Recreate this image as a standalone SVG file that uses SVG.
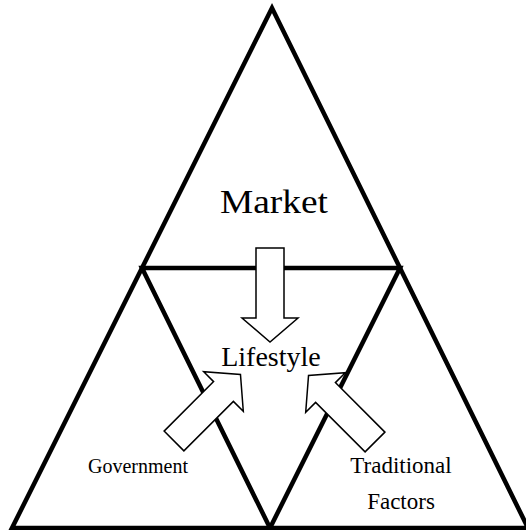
<svg xmlns="http://www.w3.org/2000/svg" width="526" height="530" viewBox="0 0 526 530">
  <style>
    .frame { fill: none; stroke: #000; stroke-width: 4.5; stroke-linejoin: miter; }
    .arrow { fill: #fff; stroke: #000; stroke-width: 1.5; stroke-linejoin: miter; }
    .label { fill: #000; text-anchor: middle; }
  </style>
  <defs>
    <!-- block arrow pointing along +y, origin at the tail centre -->
    <polygon id="blockArrow" points="-14,0 14,0 14,70 28,70 0,94 -28,70 -14,70"/>
  </defs>
  <rect width="526" height="530" fill="#fff"/>

  <g id="triangles">
    <polygon class="frame" points="272,8 12,528 528,528"/>
    <polygon class="frame" points="142,268 400,268 270,528"/>
  </g>

  <g id="connectors">
    <use href="#blockArrow" class="arrow" transform="translate(270,248)"/>
    <use href="#blockArrow" class="arrow" transform="translate(174,441) rotate(-135)"/>
    <use href="#blockArrow" class="arrow" transform="translate(375,442) rotate(135)"/>
  </g>

  <g font-family="Liberation Serif, serif">
    <g id="market">
      <text class="label" x="274" y="213" font-size="33" textLength="108" lengthAdjust="spacingAndGlyphs">Market</text>
    </g>
    <g id="lifestyle">
      <text class="label" x="271" y="366" font-size="28">Lifestyle</text>
    </g>
    <g id="government">
      <text class="label" x="138" y="473" font-size="20">Government</text>
    </g>
    <g id="traditional-factors">
      <text class="label" x="401" y="473" font-size="23">Traditional</text>
      <text class="label" x="401" y="509" font-size="23">Factors</text>
    </g>
  </g>
</svg>
